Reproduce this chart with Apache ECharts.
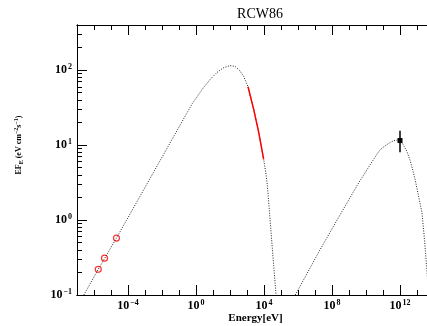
<!DOCTYPE html>
<html><head><meta charset="utf-8">
<script src="https://cdn.jsdelivr.net/npm/echarts@6/dist/echarts.min.js"></script>
<style>html,body{margin:0;padding:0;background:#fff}#c{width:427px;height:326px}</style>
</head><body><div id="c"></div>
<script>
// ---- data ----
const synchE = [2.51e-7, 1.78e-6, 2.09e-5, 0.589, 2.82, 7.08, 17.4, 39.8, 100, 200, 355, 631, 1148, 2455, 4898, 9550, 12590, 15850, 23440, 37150, 51300];
const synchF = [0.1, 0.22, 0.575, 35.5, 58.9, 75.9, 93.3, 107, 115, 112, 100, 83, 60, 30.2, 14.8, 6.46, 4.37, 2.88, 0.93, 0.245, 0.1];
const icE = [6.92e5, 2.04e7, 3.16e8, 3.16e9, 1.78e10, 4.0e10, 6.92e10, 1.41e11, 2.63e11, 4.47e11, 8.13e11, 1.41e12, 2.51e12, 3.98e12, 6.17e12, 7.76e12, 1.26e13, 1.95e13, 2.82e13, 3.8e13, 4.79e13];
const icF = [0.1, 0.407, 1.2, 2.95, 5.5, 7.3, 8.7, 9.9, 10.8, 11.5, 11.7, 10.5, 8.3, 6.2, 4.27, 3.47, 2.04, 1.26, 0.52, 0.22, 0.1];
const xrayE = [1148, 2455, 4898, 9550];
const xrayF = [60, 30.2, 14.8, 6.46];
const radioE = [1.78e-6, 4.17e-6, 2.1e-5];
const radioF = [0.22, 0.31, 0.575];
const tevE = [1e12];
const tevF = [11.5];
const tevLo = [8.0];
const tevHi = [15.5];
const xMajor = [1e-4, 1, 1e4, 1e8, 1e12];
const yMajor = [0.1, 1, 10, 100];
const title = 'RCW86';

// tick value lists built from the axis range
const xMinor = []; for (let e = -7; e <= 14; e++) xMinor.push(Math.pow(10, e));
const yMinor = []; for (let e = -1; e <= 2; e++) for (let m = 1; m <= 9; m++) { const v = m * Math.pow(10, e); if (v <= 400) yMinor.push(+v.toPrecision(3)); }

const FONT = 'Liberation Serif';
const rich = {
  b: {fontFamily: FONT, fontSize: 12, fontWeight: 'bold', color: '#000', lineHeight: 14},
  s: {fontFamily: FONT, fontSize: 8, fontWeight: 'bold', color: '#000', verticalAlign: 'top', padding: [0,0,0,1]}
};
const expFmt = v => '{b|10}{s|' + String(Math.round(Math.log10(v))).replace('-', '\u2212') + '}';

const XMIN = 1e-7, XMAX = 1e14, YMIN = 0.1, YMAX = 400;
const line = {show: true, lineStyle: {color: '#000', width: 1}};
function xAx(pos, ticks, len, labels, extra) {
  return Object.assign({type: 'log', logBase: 10, min: XMIN, max: XMAX, position: pos, axisLine: line,
    axisTick: {show: true, inside: true, length: len, customValues: ticks, lineStyle: {color: '#000', width: 1}},
    axisLabel: labels ? {show: true, customValues: xMajor, formatter: expFmt, rich: rich, margin: 4} : {show: false},
    splitLine: {show: false}, minorTick: {show: false}}, extra || {});
}
function yAx(pos, ticks, len, labels, extra) {
  return Object.assign({type: 'log', logBase: 10, min: YMIN, max: YMAX, position: pos, axisLine: line,
    axisTick: {show: true, inside: true, length: len, customValues: ticks, lineStyle: {color: '#000', width: 1}},
    axisLabel: labels ? {show: true, customValues: yMajor, formatter: expFmt, rich: rich, margin: 5} : {show: false},
    splitLine: {show: false}, minorTick: {show: false}}, extra || {});
}
const curveStyle = {color: '#222', width: 1, type: [1, 1.5]};

const chart = echarts.init(document.getElementById('c'), null, {renderer: 'canvas'});
chart.setOption({
  animation: false,
  backgroundColor: '#fff',
  title: {text: title, left: 255, top: 2, textAlign: 'center',
    textStyle: {fontFamily: FONT, fontSize: 14, fontWeight: 'normal', color: '#000'}},
  grid: {left: 77, right: -7, top: 25, bottom: 31, containLabel: false, outerBoundsMode: 'none'},
  xAxis: [
    xAx('bottom', xMinor, 5, false),
    xAx('bottom', xMajor, 10, true, {name: 'Energy[eV]', nameLocation: 'middle', nameGap: 18, nameMoveOverlap: false,
      nameTextStyle: {fontFamily: FONT, fontSize: 11, fontWeight: 'bold', color: '#000'}}),
    xAx('top', xMinor, 5, false),
    xAx('top', xMajor, 10, false)
  ],
  yAxis: [
    yAx('left', yMinor, 5, false),
    yAx('left', yMajor, 10, true, {name: '{t|EF}{u|E}{t| (eV cm}{p|\u22122}{t|s}{p|\u22121}{t|)}', nameLocation: 'middle', nameGap: 53, nameRotate: 90, nameMoveOverlap: false,
      nameTextStyle: {padding: [0, 0, 0, 30], rich: {
        t: {fontFamily: FONT, fontSize: 8, fontWeight: 'bold', color: '#000', lineHeight: 11},
        u: {fontFamily: FONT, fontSize: 6, fontWeight: 'bold', color: '#000', verticalAlign: 'bottom'},
        p: {fontFamily: FONT, fontSize: 6, fontWeight: 'bold', color: '#000', verticalAlign: 'top'}
      }}})
  ],
  series: [
    {type: 'line', name: 'sync', xAxisIndex: 0, yAxisIndex: 0, data: synchE.map((e, i) => [e, synchF[i]]),
      smooth: false, showSymbol: false, symbol: 'none', clip: true, lineStyle: curveStyle},
    {type: 'line', name: 'ic', xAxisIndex: 0, yAxisIndex: 0, data: icE.map((e, i) => [e, icF[i]]),
      smooth: false, showSymbol: false, symbol: 'none', clip: true, lineStyle: curveStyle},
    {type: 'line', name: 'xray', xAxisIndex: 0, yAxisIndex: 0, data: xrayE.map((e, i) => [e, xrayF[i]]),
      smooth: false, showSymbol: false, symbol: 'none', lineStyle: {color: '#f00', width: 1.5}},
    {type: 'scatter', name: 'radio', xAxisIndex: 0, yAxisIndex: 0, data: radioE.map((e, i) => [e, radioF[i]]),
      symbol: 'circle', symbolSize: 6, itemStyle: {color: 'rgba(0,0,0,0)', borderColor: '#f00', borderWidth: 1.2}},
    {type: 'custom', name: 'tev', xAxisIndex: 0, yAxisIndex: 0,
      data: tevE.map((e, i) => [e, tevF[i], tevLo[i], tevHi[i]]),
      renderItem: function (params, api) {
        const x = api.value(0);
        const p = api.coord([x, api.value(1)]);
        const lo = api.coord([x, api.value(2)]);
        const hi = api.coord([x, api.value(3)]);
        return {type: 'group', children: [
          {type: 'line', shape: {x1: lo[0], y1: lo[1], x2: hi[0], y2: hi[1]}, style: {stroke: '#000', lineWidth: 1.5}},
          {type: 'rect', shape: {x: p[0] - 2.5, y: p[1] - 2.5, width: 5, height: 5}, style: {fill: '#000'}}
        ]};
      }}
  ]
});
</script></body></html>
